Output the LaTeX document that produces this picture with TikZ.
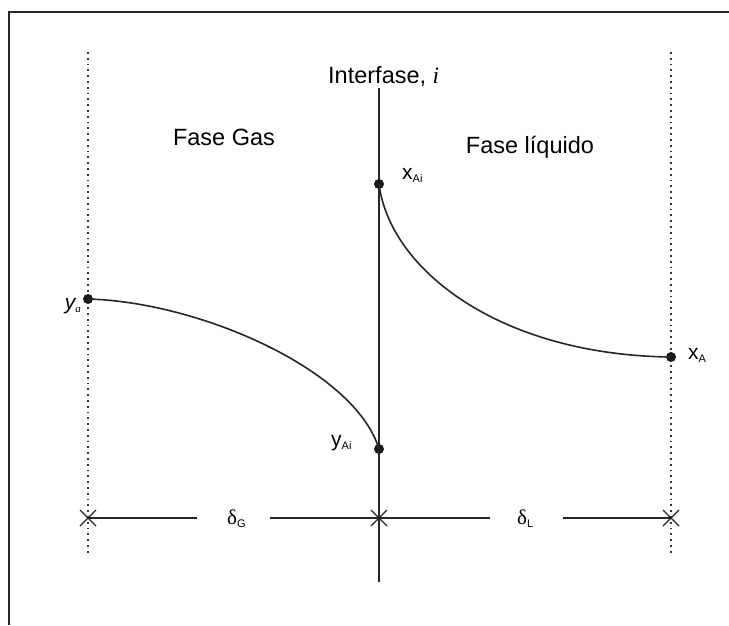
\documentclass[tikz,border=0pt]{standalone}
\usepackage{fontspec}
\usetikzlibrary{calc}
\setmainfont{Liberation Sans}
\newfontfamily\serifit{Liberation Serif}
\begin{document}
\begin{tikzpicture}[x=1pt,y=-1pt,
  frame/.style={line width=2pt,draw=black!85},
  solidline/.style={line width=1.6pt,draw=black!85},
  dotline/.style={line width=1.7pt,draw=black!80,dash pattern=on 1.7pt off 4.1pt},
  ptdot/.style={circle,fill=black!90,inner sep=0pt,minimum size=10pt},
  bigtxt/.style={inner sep=0pt,font=\fontsize{23.5}{27}\selectfont},
  lbl/.style={inner sep=0pt,font=\fontsize{21}{24}\selectfont},
  crossmark/.style={line width=1.3pt,draw=black!85}]
\useasboundingbox (0,0) rectangle (729,625);
\fill[white] (0,0) rectangle (729,625);
% frame
\draw[frame] (8.5,625) -- (8.5,11.5) -- (729,11.5);
% vertical lines
\coordinate (gtop) at (88,52);
\coordinate (gbot) at (88,555);
\coordinate (ltop) at (671,52);
\coordinate (lbot) at (671,555);
\coordinate (itop) at (379,88);
\coordinate (ibot) at (379,582);
\draw[dotline] (gtop) -- (gbot);
\draw[dotline] (ltop) -- (lbot);
\draw[solidline] (itop) -- (ibot);
% texts
\node[bigtxt,anchor=base west] (tint) at (328,83) {Interfase, {\serifit\itshape i}};
\node[bigtxt,anchor=base] (tgas) at (224,145) {Fase Gas};
\node[bigtxt,anchor=base] (tliq) at (530,153) {Fase líquido};
% points
\node[ptdot] (ya) at (88,299) {};
\node[ptdot] (xai) at (379,184) {};
\node[ptdot] (yai) at (379,449) {};
\node[ptdot] (xa) at (671,357) {};
% curves
\draw[solidline] (ya.center) .. controls (200,302) and (355,370) .. (yai.center);
\draw[solidline] (xai.center) .. controls (390,270) and (500,355) .. (xa.center);
% labels
\node[lbl,anchor=base east] (lya) at (81,309) {\itshape y\raisebox{-3pt}{\fontsize{11}{13}\selectfont\serifit\itshape a}};
\node[lbl,anchor=base west] (lxai) at (402,179) {x\raisebox{-3.5pt}{\fontsize{11}{13}\selectfont Ai}};
\node[lbl,anchor=base west] (lyai) at (331,446) {y\raisebox{-3.5pt}{\fontsize{11}{13}\selectfont Ai}};
\node[lbl,anchor=base west] (lxa) at (688,359) {x\raisebox{-3.5pt}{\fontsize{11}{13}\selectfont A}};
% dimension line
\coordinate (dg) at (88,518);
\coordinate (di) at (379,518);
\coordinate (dl) at (671,518);
\node[lbl,anchor=base west] (deltag) at (227,524) {{\serifit δ}\raisebox{-3.5pt}{\fontsize{11}{13}\selectfont G}};
\node[lbl,anchor=base west] (deltal) at (517,524) {{\serifit δ}\raisebox{-3.5pt}{\fontsize{11}{13}\selectfont L}};
\coordinate (g1) at (197,518);
\coordinate (g2) at (270,518);
\coordinate (l1) at (490,518);
\coordinate (l2) at (563,518);
\draw[solidline] (dg) -- (g1);
\draw[solidline] (g2) -- (di);
\draw[solidline] (di) -- (l1);
\draw[solidline] (l2) -- (dl);
\foreach \c in {dg,di,dl}{
  \draw[crossmark] ($(\c)+(-8,-8)$) -- ($(\c)+(8,8)$);
  \draw[crossmark] ($(\c)+(-8,8)$) -- ($(\c)+(8,-8)$);
}
\end{tikzpicture}
\end{document}
